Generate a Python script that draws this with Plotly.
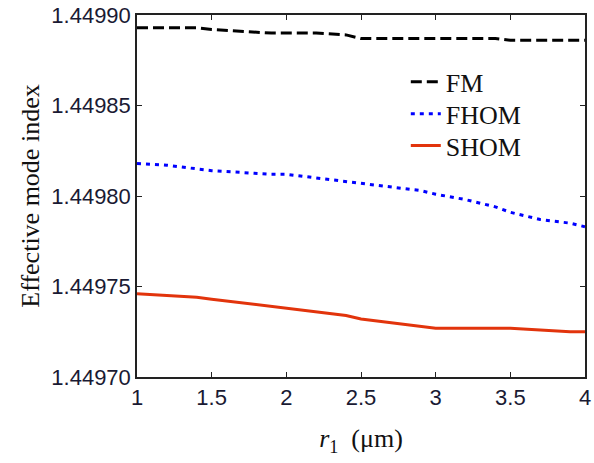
import plotly.graph_objects as go

r1 = [1.0, 1.2, 1.4, 1.5, 1.7, 1.9, 2.0, 2.2, 2.4, 2.5, 2.7, 2.9, 3.0, 3.2, 3.4, 3.5, 3.7, 3.9, 4.0]
fm = [1.449893, 1.449893, 1.449893, 1.449892, 1.449891, 1.449890, 1.449890, 1.449890, 1.449889, 1.449887, 1.449887, 1.449887, 1.449887, 1.449887, 1.449887, 1.449886, 1.449886, 1.449886, 1.449886]
fhom = [1.449818, 1.449817, 1.449815, 1.449814, 1.449813, 1.449812, 1.449812, 1.449810, 1.449808, 1.449807, 1.449805, 1.449803, 1.449801, 1.449798, 1.449794, 1.449791, 1.449787, 1.449785, 1.449783]
shom = [1.449746, 1.449745, 1.449744, 1.449743, 1.449741, 1.449739, 1.449738, 1.449736, 1.449734, 1.449732, 1.449730, 1.449728, 1.449727, 1.449727, 1.449727, 1.449727, 1.449726, 1.449725, 1.449725]

names = ["FM", "FHOM", "SHOM"]
x_ticks = [1, 1.5, 2, 2.5, 3, 3.5, 4]
y_ticks = [1.4497, 1.44975, 1.4498, 1.44985, 1.4499]

fig = go.Figure()
fig.add_trace(go.Scatter(x=r1, y=fm, mode="lines", name=names[0], legend="legend",
                         line=dict(color="black", width=3, dash="11px,5px")))
fig.add_trace(go.Scatter(x=r1, y=fhom, mode="lines", name=names[1], legend="legend2",
                         line=dict(color="#0000ff", width=3, dash="4px,5px")))
fig.add_trace(go.Scatter(x=r1, y=shom, mode="lines", name=names[2], legend="legend3",
                         line=dict(color="#e2340c", width=3)))

axis_common = dict(showline=True, linecolor="#222", linewidth=1.5, mirror="ticks",
                   ticks="inside", ticklen=5, tickcolor="#222", showgrid=False, zeroline=False,
                   ticklabeloverflow="allow",
                   tickfont=dict(family="Liberation Sans", size=22, color="#1a1a33"))

leg_font = dict(family="Liberation Serif", size=26, color="#111")
def leg(y):
    return dict(x=0.6, y=y, xanchor="left", yanchor="middle",
                bgcolor="rgba(0,0,0,0)", font=leg_font)

fig.update_layout(
    width=594, height=463,
    margin=dict(l=137, r=3, t=14, b=86),
    paper_bgcolor="white", plot_bgcolor="white",
    showlegend=True,
    legend=leg(0.815), legend2=leg(0.727), legend3=leg(0.639),
    xaxis=dict(range=[1, 4], tickvals=x_ticks, ticktext=[f"{v:g}" for v in x_ticks],
               title=dict(text="<i>r</i><sub>1</sub>  (μm)", standoff=20,
                          font=dict(family="Liberation Serif", size=26, color="#111")),
               **axis_common),
    yaxis=dict(range=[1.4497, 1.4499], tickvals=y_ticks, ticktext=[f"{v:.5f}" for v in y_ticks],
               title=dict(text="Effective mode index", standoff=4,
                          font=dict(family="Liberation Serif", size=26, color="#111")),
               **axis_common),
)

fig.write_html("out.html")
